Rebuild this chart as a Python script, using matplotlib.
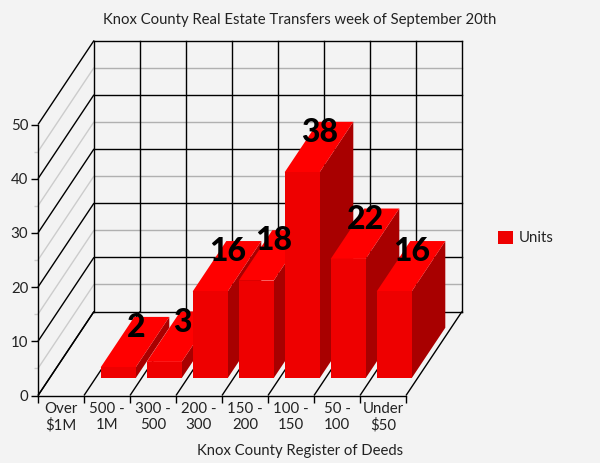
import matplotlib
matplotlib.use('Agg')
import matplotlib.pyplot as plt
from matplotlib.patches import Polygon, Patch

plt.rcParams['font.family'] = ['Lato', 'DejaVu Sans']

# data, first slot is empty
categories = ['Over\n$1M', '500 -\n1M', '300 -\n500', '200 -\n300', '150 -\n200', '100 -\n150', '50 -\n100', 'Under\n$50']
units = [0, 2, 3, 16, 18, 38, 22, 16]
y_ticks = [0, 10, 20, 30, 40, 50]
y_minor = [5, 15, 25, 35, 45]
title = 'Knox County Real Estate Transfers week of September 20th'
xlabel = 'Knox County Register of Deeds'

bg = '#f3f3f3'
W, H = 600, 463
fig = plt.figure(figsize=(6, 4.63), dpi=100, facecolor=bg)

# the axes is the front plane of the 3d box
left, right, top, bottom = 38, 406, 124.5, 395.5
ax = fig.add_axes([left / W, 1 - bottom / H, (right - left) / W, (bottom - top) / H])
ax.set_facecolor('none')
n = len(categories)
ax.set_xlim(0, n)
ax.set_ylim(0, 50)

# depth of the box in data units
dx = 56 / 46
dy = 84 / 5.42


def depth_line(x, y, **kw):
    ax.plot([x, x + dx], [y, y + dy], clip_on=False, solid_capstyle='butt', **kw)


# gray lines every 5, black every 10
for v in y_minor:
    ax.plot([dx, n + dx], [v + dy, v + dy], color='#b0b0b0', lw=1, clip_on=False)
    depth_line(0, v, color='#cccccc', lw=1)
for v in y_ticks:
    ax.plot([dx, n + dx], [v + dy, v + dy], color='black', lw=1, clip_on=False)
    depth_line(0, v, color='black', lw=1)
for i in range(n + 1):
    ax.plot([i + dx, i + dx], [dy, 50 + dy], color='black', lw=1, clip_on=False)
    depth_line(i, 0, color='black', lw=1)

# bars
bar_w = 35 / 46
d0 = 0.2
d1 = 0.8
for i, v in enumerate(units):
    if v == 0:
        continue
    x0 = i + 0.5 - bar_w / 2 + d0 * dx
    x1 = x0 + bar_w
    y0 = d0 * dy + 0.1
    y1 = y0 + v
    sx = (d1 - d0) * dx
    sy = (d1 - d0) * dy
    ax.add_patch(Polygon([(x1, y0), (x1 + sx, y0 + sy), (x1 + sx, y1 + sy), (x1, y1)], fc='#a80000', ec='none', clip_on=False, zorder=3))
    ax.add_patch(Polygon([(x0, y1), (x1, y1), (x1 + sx, y1 + sy), (x0 + sx, y1 + sy)], fc='#ff0000', ec='none', clip_on=False, zorder=3))
    ax.add_patch(Polygon([(x0, y0), (x1, y0), (x1, y1), (x0, y1)], fc='#ee0000', ec='none', clip_on=False, zorder=3))

for i, v in enumerate(units):
    if v == 0:
        continue
    xc = i + 0.52 + 0.5 * dx
    yc = 0.5 * dy + v + 2.8
    ax.text(xc, yc, str(v), ha='center', va='center', fontsize=23, fontweight='black', color='black', zorder=5)

for s in ['top', 'right']:
    ax.spines[s].set_visible(False)
ax.spines['left'].set_linewidth(1)
ax.spines['bottom'].set_linewidth(1)

ax.set_yticks(y_ticks)
ax.set_yticks(y_minor, minor=True)
ax.set_xticks(range(n + 1))
ax.set_xticklabels([])
ax.set_xticks([i + 0.5 for i in range(n)], categories, minor=True)
ax.tick_params(axis='x', which='minor', length=0, pad=5, labelsize=10.8, colors='#222222')
ax.tick_params(axis='x', which='major', length=5, width=1)
ax.tick_params(axis='y', which='major', length=5, width=1, labelsize=10.8, labelcolor='#222222', pad=2)
ax.tick_params(axis='y', which='minor', length=3, width=1, color='#cccccc')
for lab in ax.get_xticklabels(minor=True):
    lab.set_linespacing(1.15)

fig.text(300 / W, 1 - 20 / H, title, ha='center', va='center', fontsize=10.7, color='#222222')
fig.text(300 / W, 1 - 451 / H, xlabel, ha='center', va='center', fontsize=10.75, color='#222222')

leg = fig.legend(handles=[Patch(fc='#ee0000', ec='none', label='Units')], loc='center left',
                 bbox_to_anchor=(490 / W, 1 - 238 / H), frameon=False, fontsize=10.8, borderpad=0.3,
                 borderaxespad=0.2, handlelength=1.0, handleheight=1.0, handletextpad=0.45, labelcolor='#222222')

fig.savefig('out.png', dpi=100, facecolor=bg)
